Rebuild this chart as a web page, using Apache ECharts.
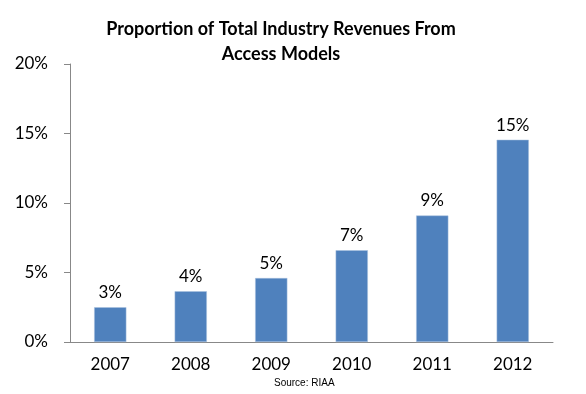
<!DOCTYPE html>
<html><head><meta charset="utf-8">
<script src="https://cdn.jsdelivr.net/npm/echarts@6/dist/echarts.min.js"></script>
<style>html,body{margin:0;padding:0;background:#fff}#c{width:586px;height:394px}</style>
</head><body><div id="c"></div>
<script>
const categories = ['2007','2008','2009','2010','2011','2012'];
const values = [2.5, 3.65, 4.6, 6.6, 9.1, 14.55];
const labels = ['3%','4%','5%','7%','9%','15%'];
const yTicks = [0,5,10,15,20];
const titleText = 'Proportion of Total Industry Revenues From\nAccess Models';
const sourceText = 'Source: RIAA';

const chart = echarts.init(document.getElementById('c'), null, {renderer:'canvas'});
const font = 'Lato';
chart.setOption({
  animation:false,
  title:{text:titleText,left:276,top:12,textAlign:'center',
    textStyle:{fontFamily:font,fontWeight:'bold',fontSize:18,color:'#000',lineHeight:25}},
  graphic:[{type:'text',left:274,top:378,style:{text:sourceText,fontFamily:'Liberation Sans',fontSize:10,fill:'#000'}}],
  grid:{left:70,right:33,top:64,bottom:52,containLabel:false},
  xAxis:{type:'category',data:categories,
    axisLine:{lineStyle:{color:'#888',width:1}},axisTick:{show:false},
    axisLabel:{fontFamily:font,fontSize:17,color:'#000',margin:14}},
  yAxis:{type:'value',min:yTicks[0],max:yTicks[yTicks.length-1],interval:5,
    axisLine:{show:true,lineStyle:{color:'#888',width:1}},
    axisTick:{show:true,inside:false,length:6,lineStyle:{color:'#888'}},
    splitLine:{show:false},
    axisLabel:{fontFamily:font,fontSize:17,color:'#000',margin:22,formatter:v=>v+'%'}},
  series:[{type:'bar',data:values,barWidth:'40%',
    itemStyle:{color:'#4F81BD',borderColor:'#a9c0de',borderWidth:0.5},
    label:{show:true,position:'top',distance:6,fontFamily:font,fontSize:17,color:'#000',
      formatter:p=>labels[p.dataIndex]}}]
});
</script></body></html>
